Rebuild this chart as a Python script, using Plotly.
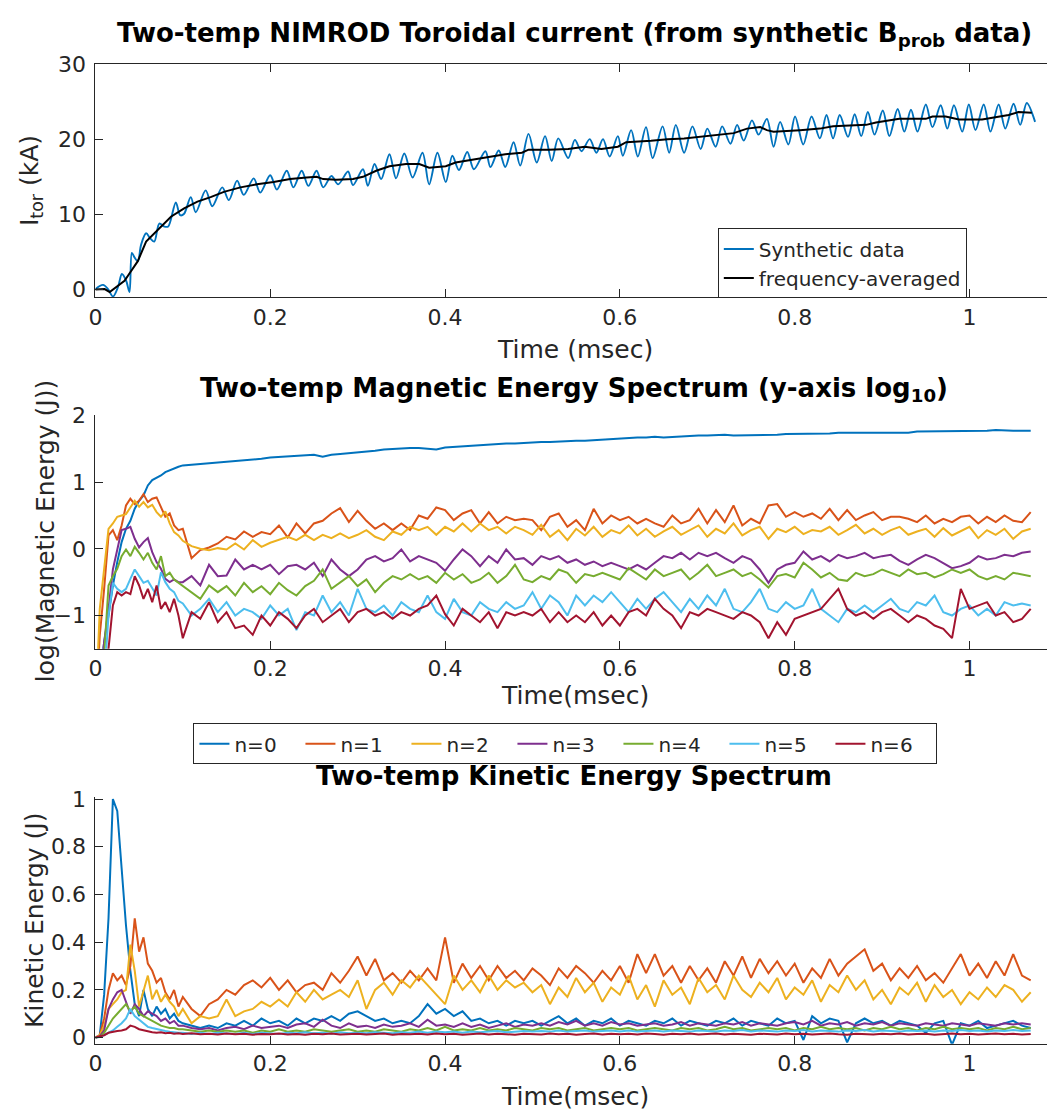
import plotly.graph_objects as go

# ---------------- data ----------------
# Panel 1: toroidal current (kA) vs time (msec)
T_SYN = [0.0000, 0.0087, 0.0144, 0.0201, 0.0258, 0.0303, 0.0352, 0.0390, 0.0417, 0.0447,
         0.0485, 0.0523, 0.0580, 0.0629, 0.0674, 0.0731, 0.0788, 0.0833, 0.0920, 0.0970,
         0.1015, 0.1091, 0.1148, 0.1261, 0.1337, 0.1451, 0.1527, 0.1621, 0.1697, 0.1811,
         0.1886, 0.2000, 0.2076, 0.2189, 0.2265, 0.2360, 0.2436, 0.2530, 0.2606, 0.2701,
         0.2777, 0.2890, 0.2947, 0.3061, 0.3117, 0.3193, 0.3269, 0.3364, 0.3439, 0.3534,
         0.3629, 0.3742, 0.3818, 0.3913, 0.4008, 0.4083, 0.4159, 0.4254, 0.4330, 0.4462,
         0.4519, 0.4614, 0.4689, 0.4784, 0.4860, 0.4955, 0.5049, 0.5144, 0.5220, 0.5295,
         0.5409,
         0.5485, 0.5561, 0.5655, 0.5731, 0.5807, 0.5883, 0.5977, 0.6034, 0.6129, 0.6205,
         0.6299, 0.6375, 0.6489, 0.6564, 0.6640, 0.6735, 0.6830, 0.6924, 0.7000, 0.7095,
         0.7170, 0.7265, 0.7341, 0.7417, 0.7511, 0.7587, 0.7682, 0.7758, 0.7833, 0.7928,
         0.8004, 0.8098, 0.8193, 0.8288, 0.8364, 0.8439, 0.8515, 0.8610, 0.8686, 0.8761,
         0.8837, 0.8913, 0.9008, 0.9083, 0.9178, 0.9254, 0.9330, 0.9405, 0.9500, 0.9576,
         0.9670, 0.9746, 0.9822, 0.9917, 0.9992, 1.0068, 1.0163, 1.0239, 1.0333, 1.0409,
         1.0504, 1.0580, 1.0655, 1.0750]
I_SYN = [0.1, 0.65, 0.1, -0.9, 0.35, 2.1, 1.2, -0.3, 4.9, 4.3,
         3.8, 6.0, 7.5, 6.8, 6.4, 8.8, 8.4, 8.4, 11.6, 9.9,
         10.1, 12.3, 10.3, 13.2, 11.1, 13.6, 11.9, 14.5, 12.6, 14.8,
         12.9, 15.2, 13.3, 15.8, 13.6, 15.8, 13.8, 15.8, 13.6, 15.1,
         14.0, 15.7, 13.9, 16.0, 13.8, 16.7, 14.7, 18.0, 14.8, 18.1,
         14.9, 18.2, 14.0, 18.2, 14.3, 17.8, 15.9, 18.3, 16.0, 18.4,
         16.3, 18.5, 16.3, 19.6, 16.5, 20.7, 16.9, 20.4, 17.1, 20.1,
         17.5,
         19.9, 18.4, 20.0, 18.2, 20.0, 17.7, 20.4, 17.8, 21.2, 17.7,
         21.6, 17.5, 21.7, 18.2, 21.9, 18.2, 21.7, 18.7, 21.4, 19.0,
         21.7, 19.4, 21.9, 19.8, 22.5, 20.6, 22.7, 19.0, 22.3, 19.3,
         23.0, 19.3, 23.0, 20.1, 23.2, 20.1, 23.2, 20.3, 23.3, 20.4,
         23.6, 20.6, 23.8, 20.4, 24.0, 21.0, 23.9, 21.0, 24.6, 21.6,
         24.5, 21.4, 24.5, 21.0, 24.6, 21.2, 24.6, 21.0, 24.6, 21.4,
         24.7, 21.9, 24.8, 22.3]

T_AVG = [0.0, 0.0106, 0.0163, 0.0258, 0.0333, 0.0409, 0.0485, 0.058, 0.0712, 0.0864,
         0.1015, 0.1167, 0.1318, 0.147, 0.1659, 0.1848, 0.2038, 0.2227, 0.2417, 0.253,
         0.2606, 0.2758, 0.2947, 0.3061, 0.3212, 0.3364, 0.3553, 0.3705, 0.3818, 0.4008,
         0.4121, 0.4311, 0.45, 0.4689, 0.4879, 0.4955, 0.5182, 0.5409, 0.5598, 0.5788,
         0.5977, 0.6072, 0.6356, 0.6545, 0.6735, 0.6924, 0.7114, 0.7303, 0.7455, 0.7606,
         0.7682, 0.7758, 0.8061, 0.8288, 0.8439, 0.8818, 0.893, 0.9121, 0.9197, 0.95,
         0.9576, 0.9727, 0.9879, 1.0144, 1.0333, 1.0447, 1.0561, 1.0712]
I_AVG = [0.05, 0.1, -0.3, 0.6, 1.2, 2.5, 3.8, 6.4, 8.0, 9.7,
         10.8, 11.7, 12.3, 13.0, 13.6, 14.0, 14.3, 14.7, 14.9, 15.0,
         14.7, 14.6, 14.7, 15.0, 15.8, 16.4, 16.7, 16.7, 16.2, 16.4,
         16.9, 17.3, 17.7, 18.0, 18.2, 18.6, 18.6, 18.7, 19.0, 18.7,
         19.0, 19.6, 19.8, 20.0, 20.1, 20.3, 20.6, 20.8, 21.4, 21.6,
         21.2, 21.0, 21.2, 21.4, 21.7, 21.9, 22.2, 22.5, 22.7, 22.7,
         23.0, 23.0, 22.6, 22.6, 23.0, 23.2, 23.6, 23.5]

# Panels 2 and 3 share one time base (msec)
T_EARLY = [0.0, 0.005, 0.01, 0.015, 0.02, 0.025, 0.03, 0.035, 0.04, 0.045,
           0.05, 0.055, 0.06, 0.065, 0.07, 0.075, 0.08, 0.085, 0.09, 0.095]
T_LATE = [round(0.10 + 0.01 * i, 2) for i in range(98)]   # 0.10 ... 1.07
TIME = T_EARLY + T_LATE

MODES = ["n=0", "n=1", "n=2", "n=3", "n=4", "n=5", "n=6"]

# Panel 2: log10 magnetic energy (J)
ME0 = [-2.5, -1.9, -1.4, -1.0, -0.55, -0.2, 0.1, 0.3, 0.42, 0.6, 0.72, 0.8, 0.95, 1.03, 1.06, 1.1, 1.15, 1.18, 1.21, 1.23,
       1.25, 1.26, 1.28, 1.29, 1.30, 1.31, 1.32, 1.33, 1.34, 1.35,
       1.37, 1.38, 1.38, 1.39, 1.40, 1.41, 1.38, 1.41, 1.42, 1.43,
       1.45, 1.46, 1.47, 1.49, 1.50, 1.50, 1.51, 1.51, 1.50, 1.49,
       1.52, 1.53, 1.54, 1.55, 1.56, 1.57, 1.57, 1.58, 1.58, 1.59,
       1.60, 1.60, 1.60, 1.61, 1.61, 1.62, 1.62, 1.63, 1.64, 1.65,
       1.66, 1.66, 1.67, 1.67, 1.68, 1.67, 1.68, 1.69, 1.69, 1.70,
       1.70, 1.71, 1.71, 1.70, 1.70, 1.71, 1.70, 1.71, 1.71, 1.72,
       1.72, 1.72, 1.73, 1.73, 1.73, 1.74, 1.74, 1.74, 1.75, 1.75,
       1.75, 1.75, 1.75, 1.74, 1.76, 1.76, 1.77, 1.76, 1.77, 1.77,
       1.77, 1.77, 1.77, 1.78, 1.77, 1.77, 1.77, 1.77]
ME1 = [-2.5, -1.3, -0.6, 0.2, 0.28, 0.13, 0.35, 0.65, 0.75, 0.67, 0.72, 0.82, 0.70, 0.75, 0.77, 0.62, 0.48, 0.53, 0.35, 0.28,
       0.30, -0.14, -0.02, 0.02, 0.08, 0.18, 0.14, 0.26, 0.18, 0.25,
       0.22, 0.35, 0.17, 0.38, 0.23, 0.38, 0.42, 0.53, 0.61, 0.40,
       0.57, 0.42, 0.30, 0.38, 0.28, 0.38, 0.28, 0.50, 0.45, 0.62,
       0.58, 0.43, 0.53, 0.58, 0.38, 0.55, 0.38, 0.48, 0.43, 0.45,
       0.43, 0.28, 0.48, 0.53, 0.33, 0.43, 0.28, 0.60, 0.38, 0.50,
       0.43, 0.48, 0.38, 0.45, 0.38, 0.33, 0.50, 0.38, 0.43, 0.60,
       0.38, 0.58, 0.40, 0.65, 0.35, 0.45, 0.38, 0.65, 0.67, 0.48,
       0.55, 0.48, 0.53, 0.45, 0.60, 0.43, 0.58, 0.43, 0.50, 0.55,
       0.43, 0.48, 0.48, 0.45, 0.40, 0.50, 0.38, 0.45, 0.40, 0.48,
       0.50, 0.38, 0.48, 0.40, 0.50, 0.42, 0.40, 0.55]
ME2 = [-2.5, -0.9, -0.3, 0.3, 0.38, 0.48, 0.50, 0.52, 0.62, 0.72, 0.63, 0.70, 0.62, 0.66, 0.55, 0.48, 0.56, 0.38, 0.25, 0.20,
       0.12, 0.04, 0.00, -0.02, 0.01, -0.01, 0.08, -0.01, 0.13, 0.03,
       0.09, 0.13, 0.18, 0.13, 0.21, 0.13, 0.21, 0.16, 0.23, 0.16,
       0.21, 0.28, 0.18, 0.13, 0.26, 0.21, 0.33, 0.28, 0.33, 0.21,
       0.33, 0.26, 0.38, 0.26, 0.38, 0.28, 0.33, 0.23, 0.33, 0.28,
       0.21, 0.36, 0.18, 0.28, 0.13, 0.30, 0.20, 0.33, 0.18, 0.28,
       0.23, 0.35, 0.20, 0.30, 0.18, 0.26, 0.33, 0.21, 0.28, 0.35,
       0.18, 0.30, 0.23, 0.38, 0.20, 0.28, 0.33, 0.15, 0.30, 0.25,
       0.33, 0.22, 0.28, 0.26, 0.33, 0.21, 0.28, 0.36, 0.23, 0.30,
       0.21, 0.28, 0.33, 0.21, 0.26, 0.30, 0.18, 0.31, 0.20, 0.26,
       0.33, 0.16, 0.28, 0.21, 0.30, 0.15, 0.26, 0.30]
ME3 = [-2.5, -2.0, -1.4, -0.9, -0.31, 0.0, 0.28, 0.30, 0.33, 0.15, 0.02, 0.10, 0.16, -0.05, -0.20, -0.30, -0.45, -0.50, -0.46, -0.50,
       -0.50, -0.41, -0.55, -0.24, -0.41, -0.40, -0.16, -0.31, -0.24, -0.31,
       -0.24, -0.38, -0.26, -0.24, -0.31, -0.21, -0.41, -0.16, -0.31, -0.41,
       -0.31, -0.16, -0.11, -0.19, -0.14, -0.01, -0.19, -0.11, -0.16, -0.21,
       -0.33, -0.16, -0.01, -0.11, -0.26, -0.11, -0.21, -0.01, -0.16, -0.14,
       -0.24, -0.11, -0.16, -0.11, -0.21, -0.16, -0.24, -0.19, -0.26, -0.21,
       -0.26, -0.31, -0.24, -0.31, -0.21, -0.11, -0.14, -0.06, -0.16, -0.06,
       -0.11, -0.06, -0.14, -0.21, -0.11, -0.16, -0.31, -0.51, -0.31, -0.24,
       -0.21, -0.04, -0.16, -0.11, -0.19, -0.09, -0.14, -0.11, -0.06, -0.14,
       -0.11, -0.09, -0.18, -0.24, -0.16, -0.09, -0.14, -0.21, -0.29, -0.26,
       -0.21, -0.11, -0.16, -0.14, -0.09, -0.11, -0.06, -0.04]
ME4 = [-2.5, -2.2, -1.6, -0.55, -0.41, -0.30, -0.11, -0.01, -0.11, 0.03, -0.06, -0.16, -0.06, -0.21, -0.31, -0.11, -0.41, -0.36, -0.46, -0.51,
       -0.55, -0.65, -0.75, -0.55, -0.65, -0.56, -0.70, -0.51, -0.65, -0.56,
       -0.68, -0.51, -0.62, -0.70, -0.56, -0.48, -0.31, -0.60, -0.51, -0.41,
       -0.56, -0.46, -0.65, -0.51, -0.41, -0.46, -0.38, -0.46, -0.41, -0.51,
       -0.36, -0.46, -0.38, -0.51, -0.46, -0.36, -0.51, -0.41, -0.24, -0.46,
       -0.50, -0.41, -0.46, -0.31, -0.36, -0.51, -0.38, -0.41, -0.36, -0.41,
       -0.46, -0.29, -0.38, -0.46, -0.31, -0.41, -0.36, -0.31, -0.46, -0.36,
       -0.24, -0.41, -0.36, -0.31, -0.41, -0.36, -0.46, -0.58, -0.41, -0.38,
       -0.43, -0.21, -0.31, -0.43, -0.36, -0.46, -0.48, -0.36, -0.41, -0.38,
       -0.31, -0.36, -0.41, -0.31, -0.38, -0.36, -0.43, -0.38, -0.31, -0.36,
       -0.31, -0.41, -0.46, -0.41, -0.46, -0.36, -0.38, -0.41]
ME5 = [-2.5, -2.3, -2.0, -1.0, -0.51, -0.60, -0.65, -0.60, -0.45, -0.31, -0.41, -0.51, -0.48, -0.60, -0.70, -0.35, -0.50, -0.60, -0.65, -0.78,
       -0.82, -1.00, -0.90, -0.75, -0.95, -0.80, -1.00, -0.90, -0.95, -1.05,
       -0.85, -1.00, -0.90, -1.22, -0.95, -1.00, -0.70, -0.95, -0.80, -1.00,
       -0.60, -0.90, -0.95, -0.85, -1.00, -0.80, -0.90, -0.95, -0.70, -0.95,
       -1.05, -0.75, -0.95, -1.00, -0.80, -0.90, -0.95, -0.80, -0.90, -0.85,
       -0.65, -0.90, -0.70, -0.80, -1.00, -0.70, -0.85, -0.70, -0.80, -0.65,
       -0.80, -0.95, -0.75, -0.90, -0.75, -0.65, -0.80, -0.95, -0.75, -0.90,
       -0.70, -0.85, -0.60, -0.90, -0.95, -0.80, -0.60, -0.90, -0.95, -0.80,
       -0.90, -0.85, -0.60, -0.90, -1.00, -1.10, -0.90, -0.95, -0.85, -0.95,
       -0.85, -0.75, -0.90, -0.95, -0.80, -0.85, -0.70, -0.95, -1.00, -0.90,
       -0.85, -1.00, -0.90, -1.00, -0.80, -0.85, -0.82, -0.85]
ME6 = [-2.5, -2.3, -2.0, -1.5, -0.85, -0.65, -0.70, -0.65, -0.68, -0.41, -0.55, -0.75, -0.60, -0.80, -0.55, -0.90, -0.80, -0.95, -0.75, -1.00,
       -1.34, -0.95, -1.05, -0.80, -1.10, -0.95, -1.19, -1.15, -1.29, -1.00,
       -1.15, -0.95, -1.05, -1.19, -1.00, -0.90, -1.10, -1.00, -0.90, -1.10,
       -0.95, -0.90, -1.00, -0.95, -1.05, -0.95, -1.00, -0.90, -0.85, -0.70,
       -0.98, -1.15, -0.90, -1.00, -1.10, -0.95, -1.19, -0.95, -1.00, -0.95,
       -1.00, -0.90, -1.10, -0.95, -1.10, -1.00, -1.10, -0.95, -1.15, -1.00,
       -1.15, -0.95, -0.90, -1.00, -0.75, -0.90, -1.00, -1.19, -0.95, -1.00,
       -0.90, -0.95, -1.00, -1.05, -0.95, -1.00, -1.10, -1.34, -1.10, -1.29,
       -1.05, -1.00, -0.95, -0.90, -0.75, -0.60, -0.90, -1.00, -0.95, -1.05,
       -0.95, -0.90, -1.00, -1.10, -1.00, -1.05, -1.15, -1.20, -1.34, -0.60,
       -0.90, -0.85, -0.80, -1.00, -0.95, -1.10, -1.05, -0.90]

# Panel 3: kinetic energy (J)
KE0 = [0.0, 0.01, 0.18, 0.5, 1.0, 0.95, 0.71, 0.47, 0.28, 0.14, 0.09, 0.2, 0.12, 0.09, 0.13, 0.1, 0.12, 0.08, 0.1, 0.07,
       0.06, 0.05, 0.04, 0.05, 0.04, 0.06, 0.05, 0.07, 0.05, 0.08,
       0.06, 0.07, 0.05, 0.08, 0.06, 0.08, 0.07, 0.09, 0.07, 0.10,
       0.11, 0.09, 0.07, 0.08, 0.06, 0.07, 0.06, 0.09, 0.14, 0.10,
       0.12, 0.09, 0.11, 0.07, 0.08, 0.06, 0.07, 0.05, 0.07, 0.06,
       0.07, 0.05, 0.07, 0.09, 0.06, 0.08, 0.05, 0.07, 0.06, 0.08,
       0.05, 0.07, 0.06, 0.05, 0.07, 0.06, 0.08, 0.05, 0.07, 0.06,
       0.05, 0.07, 0.06, 0.08, 0.05, 0.07, 0.06, 0.05, 0.08, 0.06,
       0.07, -0.01, 0.09, 0.06, 0.08, 0.07, -0.02, 0.06, 0.08, 0.06,
       0.07, 0.05, 0.07, 0.06, 0.05, 0.02, 0.06, 0.07, -0.03, 0.06,
       0.05, 0.07, 0.04, 0.05, 0.06, 0.07, 0.05, 0.04]
KE1 = [0.0, 0.01, 0.08, 0.2, 0.27, 0.24, 0.26, 0.22, 0.3, 0.5, 0.36, 0.42, 0.31, 0.28, 0.23, 0.25, 0.19, 0.16, 0.2, 0.13,
       0.17, 0.12, 0.09, 0.14, 0.16, 0.20, 0.18, 0.22, 0.24, 0.21,
       0.25, 0.20, 0.24, 0.19, 0.22, 0.23, 0.20, 0.27, 0.23, 0.28,
       0.34, 0.26, 0.33, 0.24, 0.27, 0.23, 0.28, 0.24, 0.29, 0.24,
       0.42, 0.23, 0.31, 0.25, 0.30, 0.24, 0.30, 0.25, 0.28, 0.24,
       0.29, 0.26, 0.22, 0.29, 0.25, 0.30, 0.27, 0.23, 0.28, 0.24,
       0.30, 0.23, 0.35, 0.27, 0.35, 0.26, 0.30, 0.23, 0.30, 0.24,
       0.29, 0.23, 0.32, 0.26, 0.34, 0.25, 0.33, 0.27, 0.32, 0.26,
       0.31, 0.23, 0.29, 0.25, 0.33, 0.26, 0.31, 0.34, 0.37, 0.28,
       0.31, 0.24, 0.29, 0.25, 0.30, 0.24, 0.27, 0.23, 0.29, 0.35,
       0.26, 0.31, 0.25, 0.32, 0.26, 0.35, 0.26, 0.24]
KE2 = [0.0, 0.01, 0.05, 0.12, 0.14, 0.16, 0.19, 0.2, 0.39, 0.28, 0.13, 0.2, 0.26, 0.16, 0.2, 0.15, 0.18, 0.15, 0.13, 0.09,
       0.12, 0.06, 0.09, 0.08, 0.09, 0.16, 0.09, 0.11, 0.12, 0.15,
       0.13, 0.16, 0.13, 0.19, 0.15, 0.20, 0.16, 0.18, 0.20, 0.17,
       0.24, 0.12, 0.20, 0.23, 0.18, 0.24, 0.21, 0.26, 0.22, 0.18,
       0.14, 0.26, 0.20, 0.24, 0.19, 0.26, 0.20, 0.24, 0.21, 0.23,
       0.19, 0.22, 0.14, 0.21, 0.17, 0.25, 0.19, 0.23, 0.15, 0.21,
       0.18, 0.26, 0.16, 0.22, 0.13, 0.24, 0.18, 0.21, 0.14, 0.25,
       0.19, 0.22, 0.16, 0.26, 0.20, 0.17, 0.23, 0.19, 0.25, 0.16,
       0.21, 0.18, 0.24, 0.15, 0.22, 0.19, 0.26, 0.20, 0.24, 0.16,
       0.20, 0.14, 0.21, 0.18, 0.23, 0.15, 0.22, 0.17, 0.20, 0.14,
       0.19, 0.16, 0.21, 0.17, 0.22, 0.20, 0.15, 0.19]
KE3 = [0.0, 0.005, 0.03, 0.12, 0.16, 0.19, 0.2, 0.15, 0.1, 0.14, 0.12, 0.09, 0.11, 0.1, 0.09, 0.07, 0.08, 0.06, 0.07, 0.05,
       0.05, 0.04, 0.035, 0.04, 0.03, 0.04, 0.045, 0.035, 0.05, 0.04,
       0.045, 0.05, 0.04, 0.055, 0.06, 0.045, 0.075, 0.05, 0.04, 0.06,
       0.045, 0.05, 0.04, 0.055, 0.045, 0.05, 0.06, 0.045, 0.075, 0.05,
       0.055, 0.045, 0.06, 0.045, 0.055, 0.04, 0.05, 0.06, 0.045, 0.055,
       0.05, 0.06, 0.05, 0.065, 0.055, 0.07, 0.05, 0.06, 0.05, 0.065,
       0.055, 0.06, 0.05, 0.055, 0.06, 0.05, 0.055, 0.065, 0.05, 0.06,
       0.055, 0.05, 0.06, 0.055, 0.065, 0.05, 0.06, 0.055, 0.05, 0.06,
       0.065, 0.055, 0.07, 0.05, 0.06, 0.055, 0.065, 0.05, 0.06, 0.055,
       0.065, 0.05, 0.06, 0.055, 0.05, 0.06, 0.055, 0.05, 0.06, 0.055,
       0.05, 0.06, 0.055, 0.05, 0.06, 0.055, 0.06, 0.055]
KE4 = [0.0, 0.003, 0.02, 0.05, 0.08, 0.1, 0.12, 0.14, 0.11, 0.13, 0.1, 0.09, 0.08, 0.07, 0.06, 0.05, 0.045, 0.04, 0.04, 0.035,
       0.035, 0.03, 0.025, 0.03, 0.025, 0.03, 0.025, 0.03, 0.02, 0.03,
       0.025, 0.035, 0.025, 0.03, 0.025, 0.035, 0.03, 0.025, 0.03, 0.035,
       0.025, 0.03, 0.025, 0.035, 0.03, 0.025, 0.035, 0.03, 0.04, 0.03,
       0.045, 0.03, 0.035, 0.03, 0.04, 0.03, 0.035, 0.03, 0.04, 0.035,
       0.03, 0.04, 0.035, 0.04, 0.03, 0.035, 0.04, 0.03, 0.035, 0.04,
       0.035, 0.04, 0.03, 0.035, 0.04, 0.035, 0.03, 0.04, 0.035, 0.04,
       0.03, 0.035, 0.045, 0.035, 0.04, 0.03, 0.035, 0.04, 0.035, 0.04,
       0.03, 0.04, 0.035, 0.045, 0.035, 0.04, 0.035, 0.04, 0.03, 0.04,
       0.035, 0.045, 0.035, 0.04, 0.03, 0.04, 0.035, 0.045, 0.035, 0.04,
       0.035, 0.04, 0.03, 0.04, 0.035, 0.045, 0.035, 0.04]
KE5 = [0.0, 0.002, 0.01, 0.02, 0.03, 0.045, 0.06, 0.08, 0.12, 0.09, 0.075, 0.06, 0.045, 0.04, 0.035, 0.03, 0.028, 0.025, 0.022, 0.02,
       0.02, 0.015, 0.02, 0.015, 0.02, 0.018, 0.015, 0.02, 0.015, 0.02,
       0.018, 0.015, 0.02, 0.018, 0.022, 0.018, 0.02, 0.016, 0.022, 0.018,
       0.02, 0.018, 0.022, 0.02, 0.018, 0.022, 0.02, 0.025, 0.02, 0.025,
       0.022, 0.025, 0.02, 0.025, 0.022, 0.025, 0.028, 0.022, 0.025, 0.028,
       0.025, 0.028, 0.025, 0.03, 0.025, 0.028, 0.03, 0.025, 0.028, 0.03,
       0.026, 0.03, 0.025, 0.028, 0.03, 0.026, 0.03, 0.028, 0.025, 0.03,
       0.028, 0.026, 0.03, 0.028, 0.032, 0.026, 0.03, 0.028, 0.025, 0.03,
       0.028, 0.032, 0.026, 0.03, 0.028, 0.025, 0.03, 0.028, 0.032, 0.026,
       0.03, 0.028, 0.025, 0.03, 0.028, 0.03, 0.026, 0.03, 0.028, 0.032,
       0.028, 0.03, 0.026, 0.03, 0.028, 0.032, 0.028, 0.03]
KE6 = [0.0, 0.005, 0.01, 0.02, 0.025, 0.028, 0.03, 0.035, 0.05, 0.045, 0.035, 0.03, 0.025, 0.022, 0.02, 0.022, 0.018, 0.02, 0.016, 0.018,
       0.015, 0.018, 0.014, 0.016, 0.013, 0.017, 0.014, 0.016, 0.012, 0.015,
       0.014, 0.017, 0.013, 0.015, 0.012, 0.016, 0.014, 0.017, 0.013, 0.015,
       0.016, 0.013, 0.015, 0.017, 0.012, 0.015, 0.014, 0.016, 0.013, 0.017,
       0.014, 0.016, 0.012, 0.015, 0.017, 0.013, 0.016, 0.014, 0.012, 0.016,
       0.015, 0.013, 0.017, 0.014, 0.016, 0.012, 0.015, 0.017, 0.013, 0.016,
       0.014, 0.016, 0.013, 0.017, 0.015, 0.012, 0.016, 0.014, 0.017, 0.013,
       0.015, 0.017, 0.013, 0.016, 0.014, 0.012, 0.016, 0.015, 0.013, 0.017,
       0.014, 0.016, 0.013, 0.015, 0.017, 0.014, 0.012, 0.016, 0.015, 0.013,
       0.016, 0.014, 0.017, 0.013, 0.015, 0.016, 0.012, 0.015, 0.017, 0.014,
       0.016, 0.013, 0.015, 0.017, 0.014, 0.016, 0.013, 0.015]

ME_SERIES = [ME0, ME1, ME2, ME3, ME4, ME5, ME6]
KE_SERIES = [KE0, KE1, KE2, KE3, KE4, KE5, KE6]

X_TICKS = [0, 0.2, 0.4, 0.6, 0.8, 1.0]
X_TICKTEXT = ["0", "0.2", "0.4", "0.6", "0.8", "1"]

# ---------------- styling / layout ----------------
W, H = 1047, 1116
COLORS = ["#0072BD", "#D95319", "#EDB120", "#7E2F8E", "#77AC30", "#4DBEEE", "#A2142F"]
FONT = "DejaVu Sans"
AX = "#262626"
X0_PX = 89.0
PX_PER_MS = 880.0
X_MAX = (W - X0_PX) / PX_PER_MS
LW = 2.0


def py(px):
    return 1 - px / H


fig = go.Figure()

fig.add_trace(go.Scatter(x=T_SYN, y=I_SYN, mode="lines", name="Synthetic data",
                         line=dict(color=COLORS[0], width=1.9, shape="spline", smoothing=0.9),
                         xaxis="x", yaxis="y", legend="legend"))
fig.add_trace(go.Scatter(x=T_AVG, y=I_AVG, mode="lines", name="frequency-averaged",
                         line=dict(color="black", width=2.0),
                         xaxis="x", yaxis="y", legend="legend"))

for name, ys, c in zip(MODES, ME_SERIES, COLORS):
    fig.add_trace(go.Scatter(x=TIME, y=ys, mode="lines", name=name,
                             line=dict(color=c, width=LW),
                             xaxis="x2", yaxis="y2", legend="legend2"))
for name, ys, c in zip(MODES, KE_SERIES, COLORS):
    fig.add_trace(go.Scatter(x=TIME, y=ys, mode="lines", name=name, showlegend=False,
                             line=dict(color=c, width=LW),
                             xaxis="x3", yaxis="y3"))

tickfont = dict(family=FONT, size=22, color=AX)
common = dict(showline=True, linecolor=AX, linewidth=1, ticks="inside", ticklen=8,
              tickcolor=AX, tickwidth=1, tickfont=tickfont, showgrid=False, zeroline=False)
xcommon = dict(common)
ycommon = dict(common, ticklabelstandoff=4)
xd = [X0_PX / W, 1.0]

fig.update_layout(
    width=W, height=H, margin=dict(l=0, r=0, t=0, b=0),
    paper_bgcolor="white", plot_bgcolor="white", font=dict(family=FONT, color=AX),
    xaxis=dict(domain=xd, range=[0, X_MAX], tickvals=X_TICKS, ticktext=X_TICKTEXT,
               anchor="y", mirror="ticks", **xcommon),
    yaxis=dict(domain=[py(290), py(52.7)], range=[-1, 30], tickvals=[0, 10, 20, 30],
               anchor="x", **ycommon),
    xaxis2=dict(domain=xd, range=[0, X_MAX], tickvals=X_TICKS, ticktext=X_TICKTEXT,
                anchor="y2", **xcommon),
    yaxis2=dict(domain=[py(647.3), py(410)], range=[-1.5, 2], tickvals=[-1, 0, 1, 2],
                anchor="x2", **ycommon),
    xaxis3=dict(domain=xd, range=[0, X_MAX], tickvals=X_TICKS, ticktext=X_TICKTEXT,
                anchor="y3", **xcommon),
    yaxis3=dict(domain=[py(1048.7), py(798)], range=[-0.026, 1.008],
                tickvals=[0, 0.2, 0.4, 0.6, 0.8, 1.0],
                ticktext=["0", "0.2", "0.4", "0.6", "0.8", "1"], anchor="x3", **ycommon),
    legend=dict(x=715.6 / W, y=py(220), xanchor="left", yanchor="top",
                bgcolor="white", bordercolor=AX, borderwidth=1,
                font=dict(family=FONT, size=20, color=AX), tracegroupgap=0),
    legend2=dict(orientation="h", x=187.7 / W, y=py(723), xanchor="left", yanchor="top",
                 bgcolor="white", bordercolor=AX, borderwidth=1, entrywidth=61,
                 entrywidthmode="pixels",
                 font=dict(family=FONT, size=20, color=AX)),
)

ann = []


def text(s, xpx, ypx, size, bold=False, angle=0):
    ann.append(dict(text=s, x=xpx / W, y=py(ypx), xref="paper", yref="paper",
                    showarrow=False, xanchor="center", yanchor="middle", textangle=angle,
                    font=dict(family=FONT, size=size, color="black" if bold else AX,
                              weight="bold" if bold else "normal")))


text("Two-temp NIMROD Toroidal current (from synthetic B<sub>prob</sub> data)", 571, 23, 26, bold=True)
text("Time (msec)", 572, 343, 25)
text("I<sub>tor</sub> (kA)", 24, 171, 25, angle=-90)

text("Two-temp Magnetic Energy Spectrum (y-axis log<sub>10</sub>)", 571, 384, 26, bold=True)
text("Time(msec)", 572, 695, 25)
text("log(Magnetic Energy (J))", 39, 528, 25, angle=-90)

text("Two-temp Kinetic Energy Spectrum", 571, 777, 26, bold=True)
text("Time(msec)", 572, 1102, 25)
text("Kinetic Energy (J)", 27, 923, 25, angle=-90)

fig.update_layout(annotations=ann)
fig.write_html("out.html")
